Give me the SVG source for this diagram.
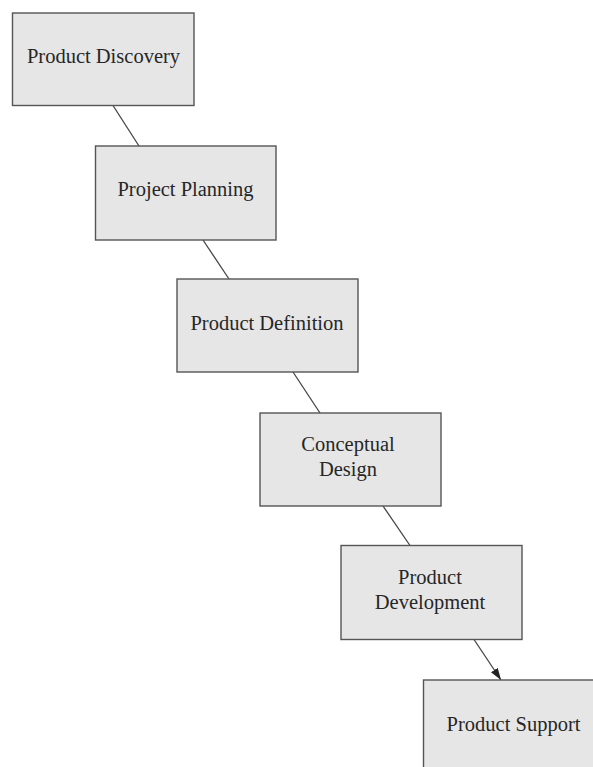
<svg xmlns="http://www.w3.org/2000/svg" width="593" height="767" viewBox="0 0 593 767">
<style>
.box{fill:#e6e6e6;stroke:#555;stroke-width:1.4}
.lbl{font-family:"Liberation Serif","Times New Roman",serif;font-size:20.5px;fill:#262626;text-anchor:middle}
.conn{stroke:#444;stroke-width:1.3;fill:none}
</style>
<defs>
<marker id="arr" viewBox="0 0 12 10" refX="12" refY="5" markerWidth="12" markerHeight="10" markerUnits="userSpaceOnUse" orient="auto">
<path d="M0,1 L12,5 L0,9 z" fill="#222"/>
</marker>
</defs>
<rect width="593" height="767" fill="#fff"/>
<g id="connectors">
<line class="conn" x1="113" y1="105.5" x2="139" y2="146"/>
<line class="conn" x1="203" y1="240" x2="229" y2="279"/>
<line class="conn" x1="293" y1="372" x2="320" y2="413"/>
<line class="conn" x1="383" y1="506" x2="410" y2="545.5"/>
<line class="conn" x1="474" y1="639.5" x2="501" y2="680" marker-end="url(#arr)"/>
</g>
<g id="product-discovery">
<rect class="box" x="12.5" y="13" width="181.5" height="92.5"/>
<text class="lbl" x="103.5" y="63">Product Discovery</text>
</g>
<g id="project-planning">
<rect class="box" x="95.5" y="146" width="180.5" height="94"/>
<text class="lbl" x="185.5" y="196">Project Planning</text>
</g>
<g id="product-definition">
<rect class="box" x="177" y="279" width="181" height="93"/>
<text class="lbl" x="267" y="330">Product Definition</text>
</g>
<g id="conceptual-design">
<rect class="box" x="260" y="413" width="181" height="93"/>
<text class="lbl" x="348" y="450.5">Conceptual</text>
<text class="lbl" x="348" y="475.5">Design</text>
</g>
<g id="product-development">
<rect class="box" x="341" y="545.5" width="181" height="94"/>
<text class="lbl" x="430" y="583.5">Product</text>
<text class="lbl" x="430" y="608.5">Development</text>
</g>
<g id="product-support">
<rect class="box" x="423.5" y="680" width="181" height="95"/>
<text class="lbl" x="513.5" y="731">Product Support</text>
</g>
</svg>
